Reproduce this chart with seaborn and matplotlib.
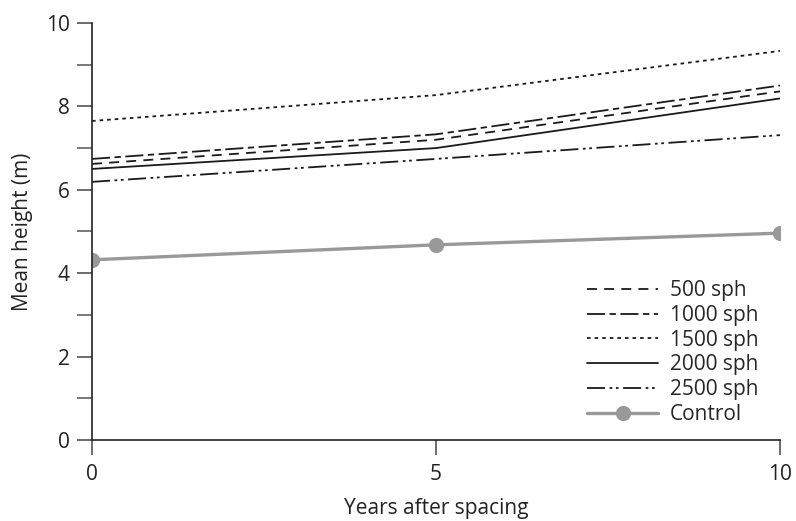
import matplotlib
matplotlib.use("Agg")
import matplotlib.pyplot as plt
import seaborn as sns
import pandas as pd

years = [0, 5, 10]
series_names = ["500 sph", "1000 sph", "1500 sph", "2000 sph", "2500 sph", "Control"]
h_500 = [6.62, 7.20, 8.36]
h_1000 = [6.74, 7.33, 8.50]
h_1500 = [7.65, 8.27, 9.33]
h_2000 = [6.50, 7.00, 8.19]
h_2500 = [6.19, 6.74, 7.31]
h_control = [4.32, 4.68, 4.96]

values = [h_500, h_1000, h_1500, h_2000, h_2500, h_control]
df = pd.concat(
    [pd.DataFrame({"year": years, "height": v, "treatment": n})
     for n, v in zip(series_names, values)],
    ignore_index=True,
)

sns.set_theme(style="ticks")
plt.rcParams["font.family"] = ["Open Sans", "DejaVu Sans"]

fig = plt.figure(figsize=(7.96, 5.21), dpi=100)
ax = fig.add_axes([0.1156, 0.1555, 0.8643, 0.8004])

line_styles = {
    "500 sph": (0, (5.5, 4)),
    "1000 sph": (0, (10, 2.5, 3.5, 2.5)),
    "1500 sph": (0, (2, 2.2)),
    "2000 sph": "-",
    "2500 sph": (0, (10, 2.5, 1.5, 2, 1.5, 2.5)),
}

for name in series_names[:-1]:
    sns.lineplot(data=df[df.treatment == name], x="year", y="height",
                 ax=ax, color="#1a1a1a", linewidth=1.3,
                 linestyle=line_styles[name], label=name)

sns.lineplot(data=df[df.treatment == "Control"], x="year", y="height",
             ax=ax, color="#999999", linewidth=2.4, marker="o",
             markersize=11, markeredgewidth=0, label="Control")

ax.set_xlim(0, 10)
ax.set_ylim(0, 10)
ax.set_xticks([0, 5, 10])
ax.set_yticks([0, 2, 4, 6, 8, 10])
ax.set_yticks([1, 3, 5, 7, 9], minor=True)
ax.tick_params(axis="both", which="major", length=11, width=1.1,
               color="#444444", labelsize=15, labelcolor="#222222")
ax.tick_params(axis="y", which="major", pad=5)
ax.tick_params(axis="x", which="major", pad=6)
ax.tick_params(axis="y", which="minor", length=11, width=1.1, color="#555555")
for side in ["top", "right"]:
    ax.spines[side].set_visible(False)
for side in ["left", "bottom"]:
    ax.spines[side].set_linewidth(1.2)
    ax.spines[side].set_color("#222222")

ax.set_xlabel("Years after spacing", fontsize=15, color="#222222", labelpad=10)
ax.set_ylabel("Mean height (m)", fontsize=15, color="#222222", labelpad=9)

ax.legend(loc="lower left", bbox_to_anchor=(0.72, 0.036), frameon=False,
          fontsize=15, handlelength=3.4, handletextpad=0.55,
          labelspacing=0.18, borderaxespad=0, borderpad=0)

fig.savefig("out.png", dpi=100)
